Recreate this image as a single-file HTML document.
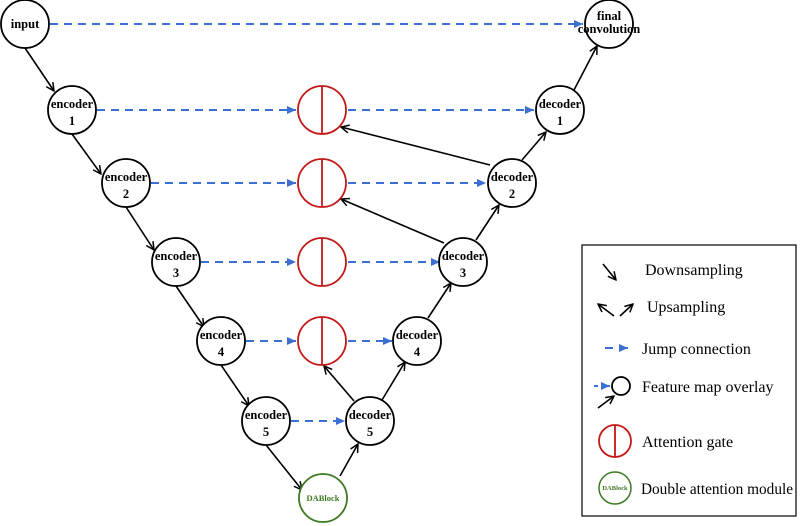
<!DOCTYPE html>
<html><head><meta charset="utf-8"><style>
html,body{margin:0;padding:0;background:#fff;width:800px;height:526px;overflow:hidden}
svg{display:block}
text{font-family:"Liberation Serif",serif}
.n{font-weight:bold;font-size:12.5px;text-anchor:middle}
.l{font-size:16px}
</style></head><body>
<svg width="800" height="526" viewBox="0 0 800 526">
<defs>
<marker id="bk" markerWidth="10" markerHeight="10" refX="9" refY="5" orient="auto" markerUnits="userSpaceOnUse"><path d="M1,1 L9,5 L1,9" fill="none" stroke="#000" stroke-width="1.5"/></marker>
<marker id="bl" markerWidth="10" markerHeight="10" refX="9" refY="5" orient="auto" markerUnits="userSpaceOnUse"><path d="M0,1 L9,5 L0,9 z" fill="#3b6fd4"/></marker>
</defs>
<g stroke="#3b6fd4" stroke-width="2" stroke-dasharray="8,6" fill="none" marker-end="url(#bl)">
<line x1="50" y1="24" x2="583" y2="24"/>
<line x1="97" y1="110" x2="296" y2="110"/>
<line x1="348" y1="110" x2="534" y2="110"/>
<line x1="151" y1="183" x2="296" y2="183"/>
<line x1="348" y1="183" x2="486" y2="183"/>
<line x1="201" y1="262" x2="296" y2="262"/>
<line x1="348" y1="262" x2="440" y2="262"/>
<line x1="246" y1="341" x2="296" y2="341"/>
<line x1="348" y1="341" x2="392" y2="341"/>
<line x1="291" y1="421" x2="345" y2="421"/>
</g>
<g stroke="#000" stroke-width="1.6" fill="none" marker-end="url(#bk)">
<line x1="25" y1="48" x2="54" y2="91"/>
<line x1="72" y1="134" x2="101" y2="174"/>
<line x1="126" y1="207" x2="154" y2="250"/>
<line x1="176" y1="286" x2="204" y2="327"/>
<line x1="221" y1="365" x2="249" y2="406"/>
<line x1="266" y1="445" x2="302" y2="490"/>
<line x1="340" y1="476" x2="358" y2="444"/>
<line x1="382" y1="400" x2="405" y2="362"/>
<line x1="428" y1="318" x2="451" y2="283"/>
<line x1="476" y1="240" x2="499" y2="205"/>
<line x1="522" y1="160" x2="546" y2="132"/>
<line x1="574" y1="90" x2="597" y2="46"/>
<line x1="490" y1="165" x2="341" y2="127"/>
<line x1="444" y1="243" x2="341" y2="199"/>
<line x1="354" y1="401" x2="324" y2="366"/>
</g>
<g stroke="#000" stroke-width="1.8" fill="#fff">
<circle cx="25" cy="24" r="24"/><circle cx="72" cy="110" r="24"/><circle cx="126" cy="183" r="24"/>
<circle cx="176" cy="262" r="24"/><circle cx="221" cy="341" r="24"/><circle cx="266" cy="421" r="24"/>
<circle cx="370" cy="421" r="24"/><circle cx="417" cy="341" r="24"/><circle cx="463" cy="262" r="24"/>
<circle cx="512" cy="183" r="24"/><circle cx="560" cy="110" r="24"/><circle cx="609" cy="24" r="24"/>
</g>
<g stroke="#c41818" stroke-width="1.8" fill="#fff">
<circle cx="322" cy="110" r="24"/><line x1="322" y1="86" x2="322" y2="134"/>
<circle cx="322" cy="183" r="24"/><line x1="322" y1="159" x2="322" y2="207"/>
<circle cx="322" cy="262" r="24"/><line x1="322" y1="238" x2="322" y2="286"/>
<circle cx="322" cy="341" r="24"/><line x1="322" y1="317" x2="322" y2="365"/>
</g>
<circle cx="323" cy="498" r="24" stroke="#3e7a23" stroke-width="1.8" fill="#fff"/>
<text x="323" y="501" fill="#3e7a23" font-size="8.5" font-weight="bold" text-anchor="middle">DABlock</text>
<text class="n" x="25" y="28" font-size="13">input</text>
<text class="n" x="72" y="108">encoder</text><text class="n" x="72" y="125">1</text>
<text class="n" x="126" y="181">encoder</text><text class="n" x="126" y="198">2</text>
<text class="n" x="176" y="260">encoder</text><text class="n" x="176" y="277">3</text>
<text class="n" x="221" y="339">encoder</text><text class="n" x="221" y="356">4</text>
<text class="n" x="266" y="419">encoder</text><text class="n" x="266" y="436">5</text>
<text class="n" x="370" y="419">decoder</text><text class="n" x="370" y="436">5</text>
<text class="n" x="417" y="339">decoder</text><text class="n" x="417" y="356">4</text>
<text class="n" x="463" y="260">decoder</text><text class="n" x="463" y="277">3</text>
<text class="n" x="512" y="181">decoder</text><text class="n" x="512" y="198">2</text>
<text class="n" x="560" y="108">decoder</text><text class="n" x="560" y="125">1</text>
<text class="n" x="609" y="20" font-size="10.5">final</text><text class="n" x="609" y="33" font-size="10.5">convolution</text>
<rect x="582" y="245" width="214" height="271" fill="none" stroke="#000" stroke-width="1.2"/>
<g stroke="#000" stroke-width="1.6" fill="none" marker-end="url(#bk)">
<line x1="603" y1="264" x2="616" y2="280"/>
<line x1="614" y1="316" x2="598" y2="304"/>
<line x1="620" y1="316" x2="633" y2="304"/>
<line x1="598" y1="408" x2="614" y2="396"/>
</g>
<line x1="605" y1="348" x2="613" y2="348" stroke="#3b6fd4" stroke-width="2"/>
<line x1="619" y1="348" x2="628" y2="348" stroke="#3b6fd4" stroke-width="2" marker-end="url(#bl)"/>
<line x1="594" y1="386" x2="598" y2="386" stroke="#3b6fd4" stroke-width="2"/>
<line x1="602" y1="386" x2="610" y2="386" stroke="#3b6fd4" stroke-width="2" marker-end="url(#bl)"/>
<circle cx="621" cy="386" r="9" fill="none" stroke="#000" stroke-width="1.8"/>
<circle cx="615" cy="441" r="16" fill="none" stroke="#c41818" stroke-width="1.8"/>
<line x1="615" y1="425" x2="615" y2="457" stroke="#c41818" stroke-width="1.8"/>
<circle cx="615" cy="488" r="16" fill="none" stroke="#3e7a23" stroke-width="1.5"/>
<text x="615" y="490" font-size="6.5" font-weight="bold" fill="#3e7a23" text-anchor="middle">DABlock</text>
<text class="l" x="645" y="275">Downsampling</text>
<text class="l" x="647" y="312">Upsampling</text>
<text class="l" x="642" y="354">Jump connection</text>
<text class="l" x="642" y="392">Feature map overlay</text>
<text class="l" x="642" y="447">Attention gate</text>
<text class="l" x="641" y="494" textLength="152" lengthAdjust="spacingAndGlyphs">Double attention module</text>
</svg>
</body></html>
